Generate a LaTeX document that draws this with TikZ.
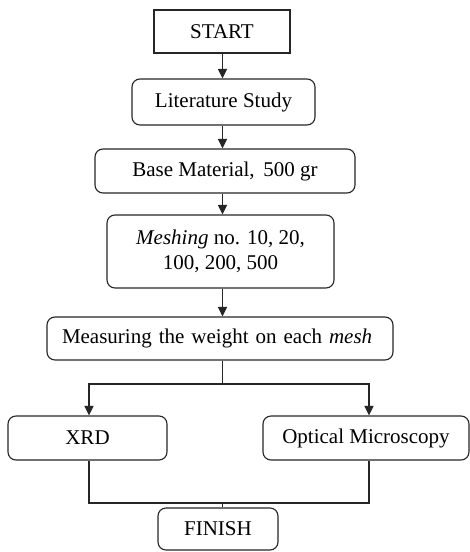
\documentclass[tikz,border=0pt]{standalone}
\usepackage{fontspec}
\setmainfont{Liberation Serif}
\usetikzlibrary{arrows.meta}
\begin{document}
\begin{tikzpicture}[x=1pt,y=-1pt,
  box/.style={draw=black!85,line width=1.1pt,rounded corners=8pt,fill=white,
    inner sep=0pt,align=center,font=\fontsize{21}{25}\selectfont},
  sharpbox/.style={box,rounded corners=0pt},
  link/.style={draw=black!85,line width=1.1pt},
  arr/.style={link,-{Triangle[length=9.5pt,width=9pt]}}]
\useasboundingbox (0,0) rectangle (470,552);
\node[sharpbox,minimum width=136pt,minimum height=43pt] (start) at (222,31.5) {START};
\node[box,minimum width=183pt,minimum height=46pt] (lit) at (223.5,102) {Literature Study};
\node[box,minimum width=260pt,minimum height=44pt] (base) at (225,171) {Base Material,\, 500 gr};
\node[box,minimum width=227pt,minimum height=73pt] (mesh) at (220.5,251.5) {\textit{Meshing} no. 10, 20,\\100, 200, 500};
\node[box,minimum width=346pt,minimum height=43pt,text width=316pt,align=left,inner xsep=15pt] (meas) at (220,338.5) {Measuring the weight on each \textit{mesh}};
\node[box,minimum width=159pt,minimum height=44pt] (xrd) at (87.5,438) {XRD};
\node[box,minimum width=206pt,minimum height=44pt] (opt) at (366,438) {Optical Microscopy};
\node[box,minimum width=120pt,minimum height=42pt] (fin) at (218,529) {FINISH};
\coordinate (split) at (222.5,384);
\coordinate (join) at (222.5,503);
\draw[arr] (start.south -| 222.5,0) -- (lit.north -| 222.5,0);
\draw[arr] (lit.south -| 222.5,0) -- (base.north -| 222.5,0);
\draw[arr] (base.south -| 222.5,0) -- (mesh.north -| 222.5,0);
\draw[arr] (mesh.south -| 222.5,0) -- (meas.north -| 222.5,0);
\draw[link] (meas.south -| split) -- (split);
\draw[arr] (split) -| (89,0 |- xrd.north);
\draw[arr] (split) -| (369,0 |- opt.north);
\draw[link] (89,0 |- xrd.south) |- (join);
\draw[link] (369,0 |- opt.south) |- (join);
\draw[link] (join) -- (join |- fin.north);
\end{tikzpicture}
\end{document}
